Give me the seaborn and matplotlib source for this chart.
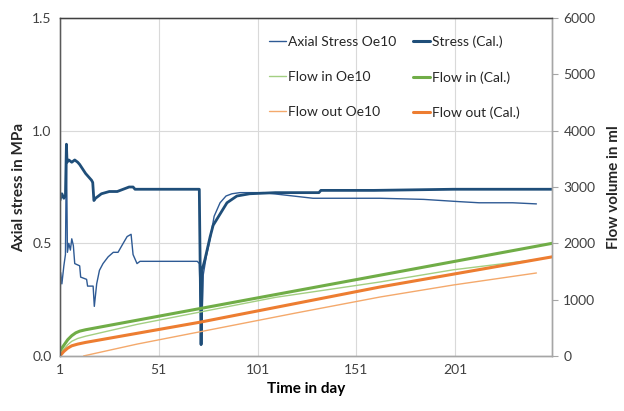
import numpy as np
import pandas as pd
import seaborn as sns
import matplotlib.pyplot as plt

# --- data ---
# Stress (Cal.) - thick blue line, MPa
stress_cal_day = [1, 2, 3, 3.8, 4.3, 4.6, 5.5, 7, 8.5, 10, 11, 14, 17, 17.6, 18.2, 19,
                  22, 26, 30, 33, 36, 38, 39, 50, 60, 70.5, 71.5, 72.4, 72.9, 74.4, 77,
                  78.5, 82, 85.5, 90.5, 97, 110, 132, 133, 160, 200, 230, 250]
stress_cal_val = [0.69, 0.72, 0.70, 0.71, 0.94, 0.86, 0.87, 0.86, 0.87, 0.86, 0.85, 0.81, 0.78,
                  0.77, 0.69, 0.70, 0.72, 0.73, 0.73, 0.74, 0.75, 0.75, 0.74, 0.74, 0.74, 0.74,
                  0.74, 0.05, 0.38, 0.43, 0.53, 0.58, 0.63, 0.68, 0.71, 0.72, 0.725, 0.725,
                  0.735, 0.735, 0.74, 0.74, 0.74]

# Axial Stress Oe10 - thin blue line, MPa
stress_oe_day = [1, 1.4, 2, 3, 3.8, 4.3, 4.8, 5.5, 6.3, 7, 7.8, 8.5, 11, 11.5, 14.5, 15,
                 17.8, 18.4, 19.6, 21, 22.8, 25.4, 28, 30.4, 33, 35, 37, 38, 40, 41.5,
                 55, 65, 70.5, 71.5, 72.6, 73.5, 75, 77, 79, 82, 85, 88, 92, 100, 104,
                 129, 163, 185, 203, 213, 230, 242]
stress_oe_val = [0.22, 0.37, 0.32, 0.40, 0.45, 0.93, 0.46, 0.50, 0.47, 0.52, 0.49, 0.41, 0.40,
                 0.35, 0.34, 0.31, 0.31, 0.22, 0.32, 0.38, 0.41, 0.44, 0.46, 0.46, 0.50, 0.53,
                 0.54, 0.45, 0.41, 0.42, 0.42, 0.42, 0.42, 0.41, 0.07, 0.36, 0.44, 0.52, 0.62,
                 0.68, 0.71, 0.72, 0.725, 0.725, 0.725, 0.70, 0.70, 0.695, 0.685, 0.68,
                 0.68, 0.675]

# Flow in (Cal.) - thick green, ml
flow_in_cal_day = [1, 3, 5, 7, 9, 11, 14, 250]
flow_in_cal_val = [90, 190, 290, 360, 410, 440, 465, 2000]

# Flow in Oe10 - thin green, ml
flow_in_oe_day = [1, 3, 5, 7, 10, 14, 40, 72, 110, 163, 200, 242]
flow_in_oe_val = [40, 120, 200, 260, 310, 350, 560, 780, 1040, 1314, 1530, 1710]

# Flow out (Cal.) - thick orange, ml
flow_out_cal_day = [1, 3, 5, 7, 10, 14, 72, 163, 250]
flow_out_cal_val = [0, 80, 140, 180, 210, 240, 600, 1225, 1760]

# Flow out Oe10 - thin orange, ml
flow_out_oe_day = [13, 40, 72, 120, 163, 200, 242]
flow_out_oe_val = [0, 210, 430, 760, 1047, 1260, 1473]

x_ticks = [1, 51, 101, 151, 201]

# colours
dark_blue = '#1f4e79'
thin_blue = '#2e5a94'
green = '#70ad47'
green_thin = '#a3cf82'
orange = '#ed7d31'
orange_thin = '#f4a96c'

sns.set_style("whitegrid")
plt.rcParams['font.family'] = ['Lato', 'DejaVu Sans']

fig = plt.figure(figsize=(6.24, 4.11), dpi=100)
ax = fig.add_axes([0.096, 0.134, 0.789, 0.822])
ax2 = ax.twinx()

kw = dict(estimator=None, sort=False, legend=False)
sns.lineplot(x=stress_oe_day, y=stress_oe_val, ax=ax, color=thin_blue, linewidth=1.0, **kw)
sns.lineplot(x=stress_cal_day, y=stress_cal_val, ax=ax, color=dark_blue, linewidth=2.0, **kw)
sns.lineplot(x=flow_in_oe_day, y=flow_in_oe_val, ax=ax2, color=green_thin, linewidth=1.0, **kw)
sns.lineplot(x=flow_in_cal_day, y=flow_in_cal_val, ax=ax2, color=green, linewidth=2.2, **kw)
sns.lineplot(x=flow_out_oe_day, y=flow_out_oe_val, ax=ax2, color=orange_thin, linewidth=1.0, **kw)
sns.lineplot(x=flow_out_cal_day, y=flow_out_cal_val, ax=ax2, color=orange, linewidth=2.2, **kw)

ax.set_xlim(1, 250)
ax.set_ylim(0, 1.5)
ax.set_yticks([0, 0.5, 1.0, 1.5])
ax.set_yticklabels(['0.0', '0.5', '1.0', '1.5'])
ax.set_xticks(x_ticks)
ax2.set_ylim(0, 6000)
ax2.set_yticks(range(0, 6001, 1000))
ax2.grid(False)
ax.grid(True, color='#d9d9d9', linewidth=0.8)

ax.set_xlabel('Time in day', fontsize=11, fontweight='bold')
ax.set_ylabel('Axial stress in MPa', fontsize=11, fontweight='bold')
ax2.set_ylabel('Flow volume in ml', fontsize=11, fontweight='bold', labelpad=8)

for a in (ax, ax2):
    a.tick_params(labelsize=10, colors='#404040')
    for s in a.spines.values():
        s.set_color('#a6a6a6')
        s.set_linewidth(1.0)
ax2.spines['top'].set_color('#404040')
ax2.spines['left'].set_color('#595959')
ax.tick_params(axis='both', length=0, pad=6)
ax2.tick_params(axis='y', length=4, color='#a6a6a6', pad=4)
ax.xaxis.label.set_color('black')

handles = [
    plt.Line2D([], [], color=thin_blue, lw=1.0),
    plt.Line2D([], [], color=green_thin, lw=1.0),
    plt.Line2D([], [], color=orange_thin, lw=1.0),
    plt.Line2D([], [], color=dark_blue, lw=2.2),
    plt.Line2D([], [], color=green, lw=2.2),
    plt.Line2D([], [], color=orange, lw=2.2),
]
labels = ['Axial Stress Oe10', 'Flow in Oe10', 'Flow out Oe10',
          'Stress (Cal.)', 'Flow in (Cal.)', 'Flow out (Cal.)']
ax.legend(handles, labels, ncol=2, frameon=False, fontsize=10,
          loc='upper left', bbox_to_anchor=(0.40, 0.985),
          handlelength=1.2, handletextpad=0.15, columnspacing=1.2,
          labelspacing=1.65)

plt.savefig('out.png', dpi=100)
